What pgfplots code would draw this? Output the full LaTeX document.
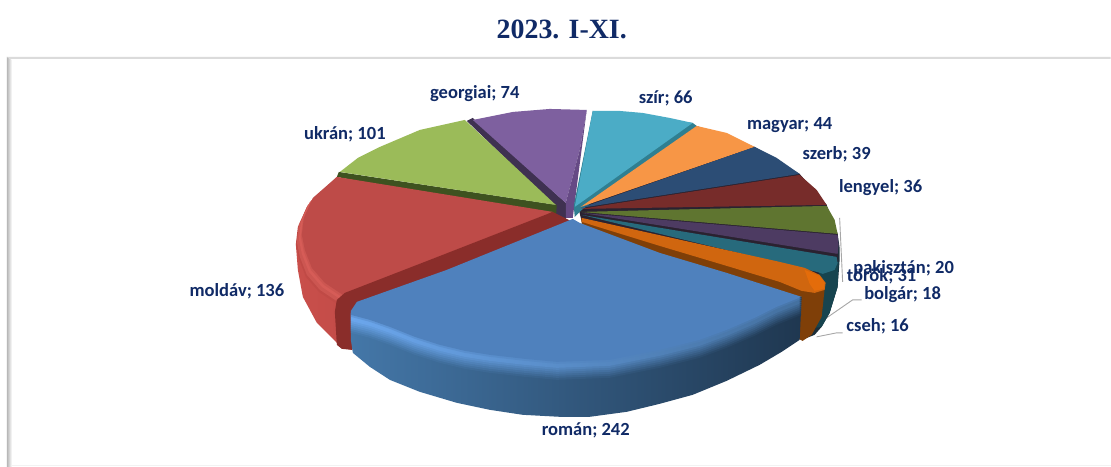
\documentclass[border=0pt]{standalone}
\usepackage{pgfplots}
\usepackage{pgfplotstable}
\usepackage{fontspec}
\pgfplotsset{compat=1.18}
\setmainfont{Carlito}
\newfontfamily\titlefont{Liberation Serif}
\definecolor{lab}{HTML}{102A66}
\newcommand{\dc}[1]{\definecolor{c#1}{HTML}{#1}}
\dc{3F3151}\dc{3E5220}\dc{9BBB59}\dc{7E609F}\dc{664A85}\dc{2F7F91}\dc{4BACC6}\dc{F79646}
\dc{2C4D75}\dc{772C2A}\dc{5F7530}\dc{4D3B62}\dc{276A7C}\dc{7F3F08}\dc{D0660F}\dc{E46C0A}
\dc{C94F4B}\dc{A93D39}\dc{C04A46}\dc{D65C57}\dc{CC5651}\dc{BE4B48}\dc{8A2D2A}
\dc{4477A8}\dc{2F5A8A}\dc{1F3750}\dc{6BA6EC}\dc{5A92D6}\dc{44709F}\dc{4F81BD}
\dc{1C2F3A}\dc{17444F}\dc{2A2230}
\pgfplotstableread{
x y
573 219
447 270
357 302
351 311
351 315
370 320
390 327
415 337
440 345
465 351
490 355
525 359
557 362
610 360
635 355
660 350
700 340
727 330
755 318
777 307
802 297
727 273
660 253
580 223
}\romanTop
\pgfplotstableread{
x y
553 212
430 260
343 295
325 283
312 268
305 250
302 235
304 218
313 198
337 177
}\moldavTop
\newcommand{\poly}[2]{\addplot[fill=c#1,draw=none] coordinates {#2};}
\newcommand{\romanBev}[2]{\addplot[draw=none,shade,left color=c6BA6EC!#2!c4477A8,middle color=c5A92D6!#2!c2F5A8A,right color=c44709F!#2!c1F3750] table[x=x,y expr=\thisrow{y}+#1] {\romanTop};}
\newcommand{\moldavBev}[3]{\addplot[fill=c#3,draw=none] table[x expr=\thisrow{x}-#1,y expr=\thisrow{y}+#2] {\moldavTop};}
\newcommand{\lab}[3]{\node[text=lab,inner sep=0pt,anchor=base,font=\bfseries\fontsize{18.6}{22}\selectfont] at (axis cs:#1,#2) {#3};}
\begin{document}
\begin{tikzpicture}
\begin{axis}[
  scale only axis, width=1111bp, height=467bp,
  xmin=0, xmax=1111, ymin=0, ymax=467, y dir=reverse,
  hide axis, no markers, clip=false]
% frame
\addplot[draw=none,fill=white] coordinates {(0,0)(1111,0)(1111,467)(0,467)};
\addplot[draw=none,shade,left color=black!28,right color=white] coordinates {(7,57)(12,60)(12,467)(7,467)};
\addplot[draw=none,fill=black!14] coordinates {(7,57)(1111,57)(1111,59)(10,59)};
\addplot[draw=black!5,line width=1bp] coordinates {(12,466)(1111,466)};
% leader lines
\addplot[draw=black!35,line width=0.9bp] coordinates {(840,218)(843,282)};
\addplot[draw=black!35,line width=0.9bp] coordinates {(827,318)(853,300)(862,300)};
\addplot[draw=black!35,line width=0.9bp] coordinates {(817,337)(837,333)(843,333)};
% outer wall of small slices and dark seams
\poly{1C2F3A}{(760,250)(838,234)(840,248)(840,260)(838,287)(830,313)(822,327)(815,335)(802,340)(760,320)}
\poly{17444F}{(800,265)(839,262)(838,287)(830,313)(822,327)(800,330)}
\poly{2A2230}{(578,205)(697,126)(755,147)(800,174)(827,205)(838,234)(838,262)(817,275)(582,222)}
% back slices
\poly{3F3151}{(566,203)(473,118)(467,121)(556,207)(552,218)(566,221)}
\poly{3E5220}{(337,177)(339,172)(557,205)(556,220)(545,217)}
\poly{9BBB59}{(556,205)(340,172)(358,158)(380,147)(420,130)(465,120)}
\poly{7E609F}{(566,203)(473,120)(513,112)(550,109)(587,110)(580,150)}
\poly{664A85}{(587,110)(573,218)(566,218)(566,203)(580,150)}
\poly{2F7F91}{(574,206)(593,111)(693,123)(697,126)(582,210)(575,217)}
\poly{4BACC6}{(575,207)(593,111)(620,111)(643,113)(670,118)(693,123)}
\poly{F79646}{(581,207)(697,126)(727,133)(755,147)}
\poly{2C4D75}{(581,208)(755,147)(777,158)(800,174)}
\poly{772C2A}{(581,209)(800,175)(817,190)(827,205)}
\poly{5F7530}{(581,212)(827,206)(835,220)(838,234)}
\poly{4D3B62}{(582,213)(838,235)(839,245)(838,254)}
\poly{276A7C}{(582,215)(837,257)(838,263)(835,270)(823,274)(817,272)}
% brown side and orange slice
\poly{7F3F08}{(582,219)(802,285)(815,290)(825,289)(822,317)(812,335)(803,341)(797,338)(780,320)(582,240)}
\poly{D0660F}{(582,218)(780,262)(805,268)(820,275)(826,283)(825,290)(815,293)(802,291)(780,282)(727,266)(660,246)(582,222)}
\poly{E46C0A}{(805,270)(820,276)(825,283)(824,289)(815,291)(810,284)}
% moldav
\addplot[draw=none,shade,left color=cC94F4B,right color=cA93D39] coordinates {(337,177)(313,200)(300,227)(296,245)(298,270)(303,297)(317,323)(342,348)(352,350)(560,230)};
\moldavBev{6}{9}{C04A46}
\moldavBev{5}{7}{CC5651}
\moldavBev{3}{4}{D65C57}
\moldavBev{1}{2}{CC5651}
\moldavBev{0}{0}{BE4B48}
\poly{8A2D2A}{(553,212)(430,260)(345,293)(337,300)(335,312)(337,345)(342,349)(352,350)(356,310)(573,222)}
% roman wall
\addplot[draw=none,shade,left color=c4477A8,middle color=c2F5A8A,right color=c1F3750] coordinates {(351,313)(351,340)(353,353)(370,367)(390,380)(420,392)(457,403)(490,410)(523,415)(560,417)(590,417)(627,412)(660,404)(693,395)(727,381)(760,365)(782,352)(800,340)(802,297)};
\romanBev{18}{10}
\romanBev{16}{25}
\romanBev{14}{40}
\romanBev{12}{55}
\romanBev{10}{70}
\romanBev{8}{85}
\romanBev{6}{100}
\romanBev{4}{100}
\addplot[draw=none,shade,left color=c6BA6EC!60!c4F81BD,middle color=c5A92D6!60!c4F81BD,right color=c44709F!60!c4F81BD] table[x=x,y expr=\thisrow{y}+2] {\romanTop};
\addplot[fill=c4F81BD,draw=none] table[x=x,y=y] {\romanTop};
% labels
\node[text=lab,inner sep=0pt,font=\titlefont\bfseries\fontsize{28}{32}\selectfont] at (axis cs:562,29) {2023. I-XI.};
\lab{475}{99}{georgiai; 74}
\lab{666}{104}{szír; 66}
\lab{790}{130}{magyar; 44}
\lab{837}{160}{szerb; 39}
\lab{881}{193}{lengyel; 36}
\lab{882}{282}{török; 31}
\lab{904}{274}{pakisztán; 20}
\lab{903}{300}{bolgár; 18}
\lab{878}{332}{cseh; 16}
\lab{345}{140}{ukrán; 101}
\lab{237}{297}{moldáv; 136}
\lab{586}{436}{román; 242}
\end{axis}
\end{tikzpicture}
\end{document}
